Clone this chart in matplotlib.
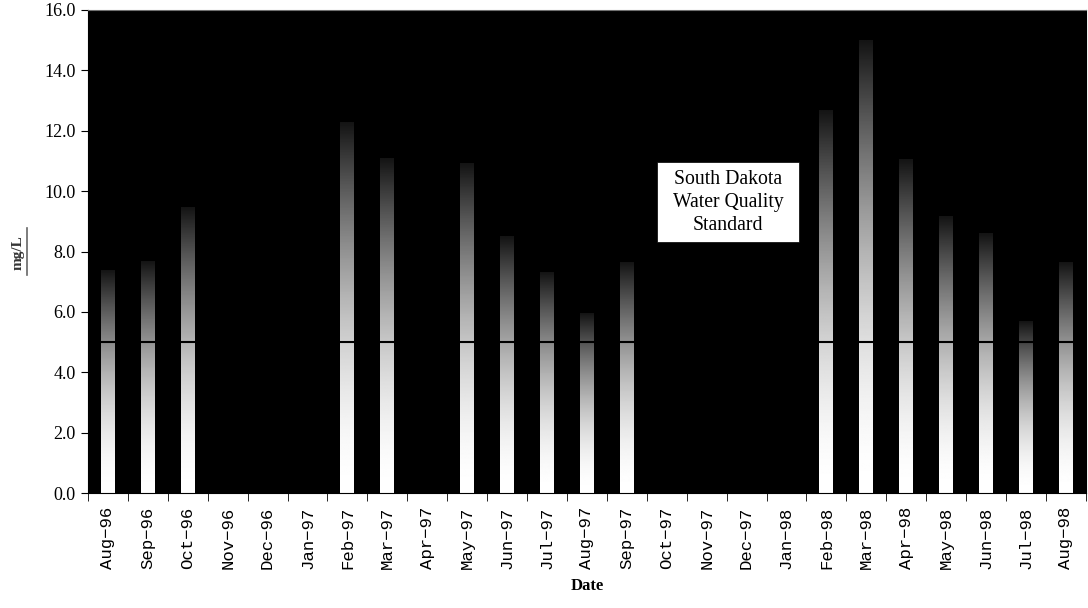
import numpy as np
import matplotlib.pyplot as plt
from matplotlib.lines import Line2D
from matplotlib.patches import Rectangle

# monthly dissolved oxygen samples (mg/L), 0 = no sample taken
months = ['Aug-96', 'Sep-96', 'Oct-96', 'Nov-96', 'Dec-96', 'Jan-97', 'Feb-97',
          'Mar-97', 'Apr-97', 'May-97', 'Jun-97', 'Jul-97', 'Aug-97', 'Sep-97',
          'Oct-97', 'Nov-97', 'Dec-97', 'Jan-98', 'Feb-98', 'Mar-98', 'Apr-98',
          'May-98', 'Jun-98', 'Jul-98', 'Aug-98']
do_mgl = [7.38, 7.66, 9.47, 0, 0, 0, 12.28,
          11.09, 0, 10.92, 8.51, 7.30, 5.93, 7.64,
          0, 0, 0, 0, 12.68, 15.0, 11.03,
          9.15, 8.60, 5.67, 7.63]
standard = 5.0
y_ticks = [0, 2, 4, 6, 8, 10, 12, 14, 16]

fig = plt.figure(figsize=(10.88, 6.08), dpi=100)
ax = fig.add_axes([0.0809, 0.189, 0.9171, 0.7946])
ax.set_facecolor('black')

n = len(months)
x = np.arange(n)
bar_w = 0.35

# white-to-black fade inside each bar
frac = np.linspace(0, 1, 256)
shade = 1 - 0.92 * frac ** 1.8
grad = np.repeat(shade[:, None], 2, axis=1)

for xi, v in zip(x, do_mgl):
    if v <= 0:
        continue
    ax.imshow(grad, cmap='gray', vmin=0, vmax=1, origin='lower', aspect='auto',
              extent=(xi - bar_w / 2, xi + bar_w / 2, 0, v), zorder=2,
              interpolation='bilinear')

ax.axhline(standard, color='black', linewidth=1.5, zorder=4)

ax.set_xlim(-0.5, n - 0.5)
ax.set_ylim(0, 16)

ax.set_xticks(x)
ax.set_xticklabels([m.replace('-', '\u2212') for m in months], rotation=90,
                   fontfamily='Liberation Mono', fontsize=12.5)
ax.set_xticks(np.arange(n + 1) - 0.5, minor=True)
ax.tick_params(axis='x', which='major', length=0, pad=10)
ax.tick_params(axis='x', which='minor', length=6, direction='out', color='black')

ax.set_yticks(y_ticks)
ax.set_yticklabels([f'{t:.1f}' for t in y_ticks], fontfamily='Liberation Serif',
                   fontsize=13)
ax.tick_params(axis='y', length=5, direction='out', color='black', pad=4)

ax.spines['top'].set_color('#707070')
for s in ('left', 'bottom', 'right'):
    ax.spines[s].set_color('black')

ax.set_xlabel('Date', fontfamily='Liberation Serif', fontweight='bold',
              fontsize=12, labelpad=6)

# small underlined unit label
fig.text(0.0165, 0.585, 'mg/L', rotation=90, ha='center', va='center',
         fontfamily='Liberation Serif', fontweight='bold', fontsize=11,
         color='#333333')
fig.add_artist(Line2D([0.0245, 0.0245], [0.548, 0.625], color='#666666',
                      linewidth=1.2))

# label box for the standard line
ax.add_patch(Rectangle((0.570, 0.519), 0.143, 0.166, transform=ax.transAxes,
                       facecolor='white', edgecolor='black', linewidth=0.5,
                       zorder=5))
ax.text(0.6415, 0.602, 'South Dakota\nWater Quality\nStandard', ha='center',
        va='center', transform=ax.transAxes, fontfamily='Liberation Serif',
        fontsize=14.2, linespacing=1.28, zorder=6)

fig.savefig('out.png', dpi=100)
